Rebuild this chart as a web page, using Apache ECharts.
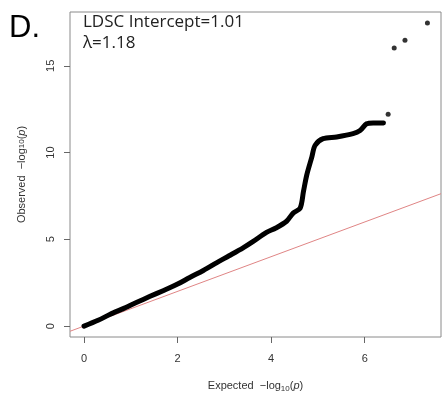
<!DOCTYPE html>
<html><head><meta charset="utf-8">
<script src="https://cdn.jsdelivr.net/npm/echarts@6/dist/echarts.min.js"></script>
<style>html,body{margin:0;padding:0;background:#fff}#c{width:447px;height:398px}</style>
</head><body><div id="c"></div>
<script>
// Expected -log10(p) vs Observed -log10(p), main dense QQ band
const qqExpected = [0,0.3,0.56,0.85,1.13,1.4,1.69,2.0,2.26,2.55,2.84,3.1,3.4,3.6,3.9,4.1,4.33,4.47,4.62,4.69,4.76,4.87,4.94,5.11,5.4,5.75,5.9,6.04,6.18,6.4];
const qqObserved = [0,0.33,0.68,1.02,1.37,1.7,2.04,2.42,2.8,3.2,3.66,4.05,4.51,4.85,5.4,5.65,6.04,6.51,6.8,7.75,8.7,9.75,10.42,10.8,10.9,11.09,11.27,11.66,11.71,11.7];
// Isolated top points
const topExpected = [6.5,6.63,6.86,7.34];
const topObserved = [12.21,16.02,16.47,17.47];
// Null line y = x
const nullLineX = [-0.3, 7.63];
const xTicks = [0,2,4,6];
const yTicks = [0,5,10,15];

const chart = echarts.init(document.getElementById('c'), null, {renderer:'canvas'});
const font = 'Liberation Sans, Arial, sans-serif';
chart.setOption({
  animation:false,
  backgroundColor:'#fff',
  grid:{left:70,top:12,right:6,bottom:58,show:true,borderColor:'#8a8a8a',borderWidth:1,backgroundColor:'transparent'},
  xAxis:{type:'value',min:-0.3,max:7.63,
    axisLine:{show:false,onZero:false},splitLine:{show:false},
    axisTick:{show:true,length:6,inside:false,customValues:xTicks,lineStyle:{color:'#666'}},
    axisLabel:{customValues:xTicks,margin:16,color:'#333',fontFamily:font,fontSize:11},
    name:'Expected  \u2212log{s|10}({i|p})',nameLocation:'middle',nameGap:42,
    nameTextStyle:{color:'#333',fontFamily:font,fontSize:11,rich:{s:{fontSize:8,verticalAlign:'bottom',padding:[6,0,0,0],fontFamily:font,color:'#333'},i:{fontStyle:'italic',fontFamily:font,fontSize:11,color:'#333'}}}
  },
  yAxis:{type:'value',min:-0.63,max:18.1,
    axisLine:{show:false,onZero:false},splitLine:{show:false},
    axisTick:{show:true,length:6,inside:false,customValues:yTicks,lineStyle:{color:'#666'}},
    axisLabel:{customValues:yTicks,rotate:90,margin:14,color:'#333',fontFamily:font,fontSize:11},
    name:'Observed  \u2212log{s|10}({i|p})',nameLocation:'middle',nameGap:43,nameRotate:90,
    nameTextStyle:{color:'#333',fontFamily:font,fontSize:11,rich:{s:{fontSize:8,fontFamily:font,color:'#333'},i:{fontStyle:'italic',fontFamily:font,fontSize:11,color:'#333'}}}
  },
  series:[
    {type:'line',data:nullLineX.map(v=>[v,v]),symbol:'none',lineStyle:{color:'#e08585',width:1},z:1,clip:true},
    {type:'line',data:qqExpected.map((x,i)=>[x,qqObserved[i]]),symbol:'none',smooth:0.3,
      lineStyle:{color:'#000',width:5,cap:'round',join:'round'},z:2},
    {type:'scatter',data:topExpected.map((x,i)=>[x,topObserved[i]]),symbol:'circle',symbolSize:5,itemStyle:{color:'#000'},z:3}
  ],
  graphic:[
    {type:'text',left:9,top:13,style:{text:'D.',fontFamily:font,fontSize:31,fill:'#000'}},
    {type:'text',left:83,top:14,style:{text:'LDSC Intercept=1.01',fontFamily:'Open Sans, sans-serif',fontSize:17,fill:'#222'}},
    {type:'text',left:83,top:35,style:{text:'\u03bb=1.18',fontFamily:'Open Sans, sans-serif',fontSize:17,fill:'#222'}}
  ]
});
</script></body></html>
